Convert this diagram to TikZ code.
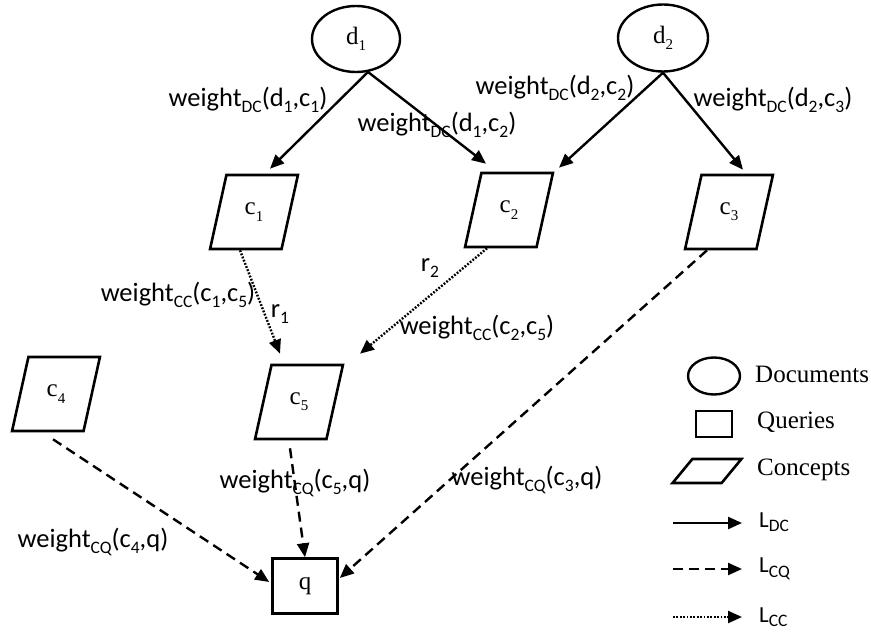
\documentclass[tikz,border=0pt]{standalone}
\usepackage{fontspec}
\setmainfont{Liberation Serif}
\newfontfamily\lblfont{Carlito}
\usetikzlibrary{shapes.geometric,arrows.meta,calc}
\newcommand{\lsub}[1]{\raisebox{-0.2em}{\fontsize{17.5}{17.5}\selectfont #1}}
\newcommand{\nsub}[1]{\raisebox{-0.25em}{\fontsize{15}{15}\selectfont #1}}
\begin{document}
\begin{tikzpicture}[x=1pt,y=-1pt,
  doc/.style={ellipse, draw, line width=2.4pt, minimum width=88pt, minimum height=66pt, inner sep=0pt, font=\fontsize{25}{28}\selectfont},
  concept/.style={trapezium, trapezium left angle=73, trapezium right angle=107, trapezium stretches=true, draw, line width=2.6pt, minimum width=88pt, minimum height=74pt, inner sep=0pt, font=\fontsize{25}{28}\selectfont},
  query/.style={rectangle, draw, line width=2.6pt, minimum width=65pt, minimum height=55pt, inner sep=0pt, font=\fontsize{25}{28}\selectfont},
  lbl/.style={font=\lblfont\fontsize{26.5}{30}\selectfont, inner sep=1pt},
  legtxt/.style={anchor=west, font=\fontsize{25}{28}\selectfont, inner sep=0pt},
  ldc/.style={line width=2.4pt, -{Triangle[length=14pt,width=12pt]}},
  lcq/.style={ldc, dash pattern=on 10pt off 6pt},
  lcc/.style={ldc, dash pattern=on 1.8pt off 1.6pt},
]
\fill[white] (0,0) rectangle (871,637);
\useasboundingbox (0,0) rectangle (871,637);

% nodes
\node[doc] (d1) at (356,39) {d\nsub{1}};
\node[doc, minimum width=90pt, minimum height=67pt] (d2) at (663,38) {d\nsub{2}};
\node[concept] (c1) at (254,212) {c\nsub{1}};
\node[concept] (c2) at (509,210) {c\nsub{2}};
\node[concept] (c3) at (729,212) {c\nsub{3}};
\node[concept] (c4) at (56,394) {c\nsub{4}};
\node[concept] (c5) at (299,402) {c\nsub{5}};
\node[query] (q) at (305,586) {q};

% connectors
\draw[ldc] (d1.-70) -- ($(c1.north)+(16,-5)$);
\draw[ldc] (d1.-70) -- ($(c2.north)+(-23,-8)$);
\draw[ldc] (d2.south) -- ($(c2.north)+(50,-4)$);
\draw[ldc] (d2.south) -- ($(c3.north)+(14,-4)$);
\draw[lcc] ($(c1.south)+(-14,0)$) -- ($(c5.north)+(-19,-10)$);
\draw[lcc] ($(c2.south)+(-22,0)$) -- ($(c5.north)+(61,-10)$);
\draw[lcq] ($(c3.south)+(-22,0)$) -- ($(q.east)+(1,-8)$);
\draw[lcq] ($(c5.south)+(-9,8)$) -- (q.north);
\draw[lcq] ($(c4.south)+(-3,7)$) -- ($(q.west)+(-2,-4)$);

% labels
\node[lbl] (w1) at (248,100) {weight\lsub{DC}(d\lsub{1},c\lsub{1})};
\node[lbl] (w2) at (437,125) {weight\lsub{DC}(d\lsub{1},c\lsub{2})};
\node[lbl] (w3) at (555,88) {weight\lsub{DC}(d\lsub{2},c\lsub{2})};
\node[lbl] (w4) at (773,100) {weight\lsub{DC}(d\lsub{2},c\lsub{3})};
\node[lbl] (w5) at (178,295) {weight\lsub{CC}(c\lsub{1},c\lsub{5})};
\node[lbl] (r1) at (280,314) {r\lsub{1}};
\node[lbl] (r2) at (430,268) {r\lsub{2}};
\node[lbl] (w6) at (477,328) {weight\lsub{CC}(c\lsub{2},c\lsub{5})};
\node[lbl] (w7) at (295,483) {weight\lsub{CQ}(c\lsub{5},q)};
\node[lbl] (w8) at (527,480) {weight\lsub{CQ}(c\lsub{3},q)};
\node[lbl] (w9) at (93,542) {weight\lsub{CQ}(c\lsub{4},q)};

% legend
\node[doc, minimum width=52pt, minimum height=37pt] (ldoc) at (714,376) {};
\node[query, minimum width=36pt, minimum height=26pt] (lqry) at (714,424) {};
\node[concept, trapezium left angle=58, trapezium right angle=122, minimum width=69pt, minimum height=24pt] (lcon) at (707,471) {\phantom{c}};
\node[legtxt] (tdoc) at (755,374) {Documents};
\node[legtxt] (tqry) at (757,422) {Queries};
\node[legtxt] (tcon) at (757,470) {Concepts};
\node[lbl, anchor=west, font=\lblfont\fontsize{23}{26}\selectfont] (tldc) at (758,522) {L\lsub{DC}};
\node[lbl, anchor=west, font=\lblfont\fontsize{23}{26}\selectfont] (tlcq) at (758,569) {L\lsub{CQ}};
\node[lbl, anchor=west, font=\lblfont\fontsize{23}{26}\selectfont] (tlcc) at (758,617) {L\lsub{CC}};
\coordinate (a1) at (673,523);
\coordinate (a2) at (673,569);
\coordinate (a3) at (673,617);
\draw[ldc] (a1) -- ($(tldc.west)+(-16,1)$);
\draw[lcq] (a2) -- ($(tlcq.west)+(-16,0)$);
\draw[lcc] (a3) -- ($(tlcc.west)+(-16,0)$);
\end{tikzpicture}
\end{document}
